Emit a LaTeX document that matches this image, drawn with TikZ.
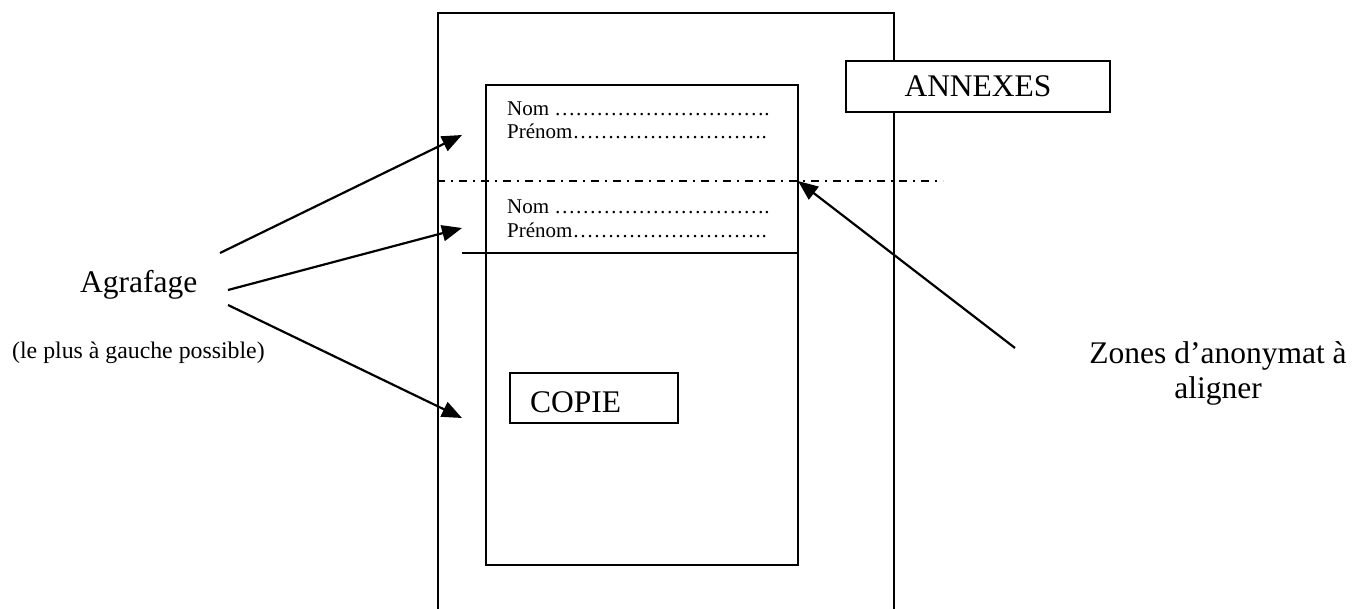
\documentclass[tikz,border=0pt]{standalone}
\usepackage{fontspec}
\setmainfont{Liberation Serif}
\usetikzlibrary{arrows.meta}
\newcommand{\myell}{…}
\newcommand{\dotsten}{\myell\myell\myell\myell\myell\myell\myell\myell\myell\myell}
\newcommand{\dotsnine}{\myell\myell\myell\myell\myell\myell\myell\myell\myell}
\tikzset{
  ln/.style={line width=2pt},
  arr/.style={line width=2.2pt,-{Triangle[length=20pt,width=16pt]}},
  big/.style={font=\fontsize{31.5}{36}\selectfont,inner sep=0pt},
  small/.style={font=\fontsize{23.8}{27}\selectfont,inner sep=0pt},
  fld/.style={font=\fontsize{21}{24}\selectfont,inner sep=0pt,anchor=base west},
  boxed/.style={draw,ln,fill=white},
  dashdot/.style={line width=2pt,dash pattern=on 8pt off 6pt on 2pt off 6pt}
}
\begin{document}
\begin{tikzpicture}[x=1pt,y=-1pt]
\clip (0,0) rectangle (1352,608);
\fill[white] (0,0) rectangle (1352,608);
% outer sheet (annexes)
\draw[ln] (438,620) -- (438,13) -- (894,13) -- (894,620);
% inner sheet (copie)
\draw[ln] (486,85) rectangle (798,565);
% dash-dot alignment line
\coordinate (dl) at (437,181);
\coordinate (dr) at (943,181);
\draw[dashdot] (dl) -- (dr);
% solid line
\coordinate (sl) at (462,253);
\coordinate (sr) at (798,253);
\draw[ln] (sl) -- (sr);
% name fields
\node[fld] (n1) at (507,115) {Nom \dotsten.};
\node[fld] (p1) at (507,138) {Prénom\dotsnine.};
\node[fld] (n2) at (507,213) {Nom \dotsten.};
\node[fld] (p2) at (507,237) {Prénom\dotsnine.};
% ANNEXES box
\node[boxed,big,minimum width=264pt,minimum height=51pt] (annexes) at (978,86.5) {ANNEXES};
% COPIE box
\draw[ln] (510,373) rectangle (678,423);
\node[big,anchor=base west] (copie) at (530,412) {COPIE};
% left labels
\node[big,anchor=base west] (agr) at (80,292) {Agrafage};
\node[small,anchor=base west] (lpg) at (12,358) {(le plus à gauche possible)};
% right label
\node[big,anchor=base] (zones) at (1218,363) {Zones d’anonymat à};
\node[big,anchor=base] (align) at (1218,398) {aligner};
% arrows
\coordinate (a1s) at (220,253);
\coordinate (a1t) at (462,135);
\coordinate (a2s) at (228,290);
\coordinate (a2t) at (462,228);
\coordinate (a3s) at (228,305);
\coordinate (a3t) at (462,418);
\coordinate (zs) at (1015,348);
\coordinate (zt) at (798,181);
\draw[arr] (a1s) -- (a1t);
\draw[arr] (a2s) -- (a2t);
\draw[arr] (a3s) -- (a3t);
\draw[arr] (zs) -- (zt);
\end{tikzpicture}
\end{document}
